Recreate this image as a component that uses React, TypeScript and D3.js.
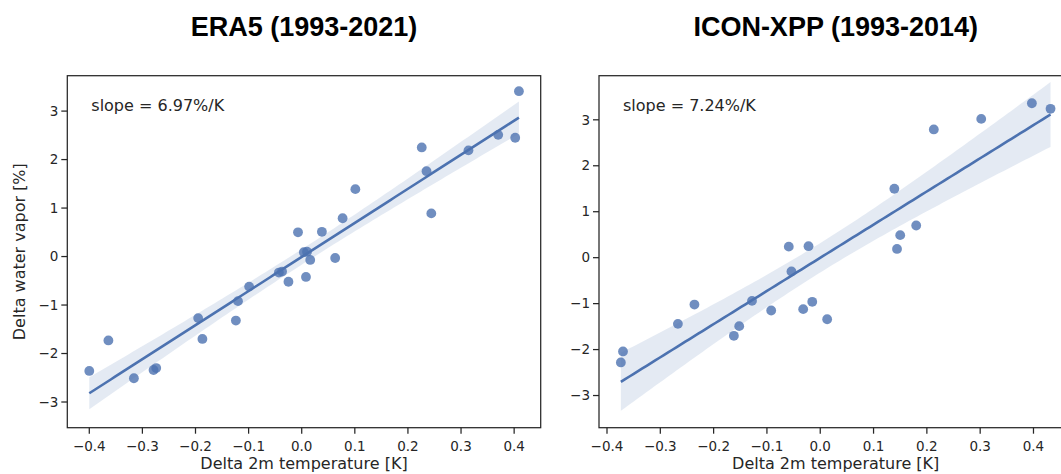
import React from "react";
import * as d3 from "d3";

// ERA5 (1993-2021)
const eraTemp = [
  0.409, 0.370, 0.402, 0.314, 0.226, 0.235, 0.244, 0.101, 0.077, 0.038,
  -0.007, 0.004, 0.010, 0.016, 0.063, -0.043, -0.037, -0.025, 0.008, -0.099,
  -0.120, -0.124, -0.195, -0.187, -0.364, -0.400, -0.316, -0.279, -0.274,
];
const eraVapor = [
  3.41, 2.51, 2.45, 2.19, 2.25, 1.76, 0.89, 1.39, 0.79, 0.51,
  0.50, 0.09, 0.10, -0.07, -0.03, -0.33, -0.31, -0.52, -0.42, -0.62,
  -0.92, -1.32, -1.27, -1.70, -1.73, -2.36, -2.51, -2.34, -2.30,
];

// ICON-XPP (1993-2014)
const iconTemp = [
  0.397, 0.432, 0.302, 0.213, 0.139, 0.180, 0.150, 0.144, -0.059, -0.022,
  -0.054, -0.128, -0.092, -0.015, -0.032, 0.013, -0.236, -0.267, -0.152, -0.162,
  -0.370, -0.374,
];
const iconVapor = [
  3.36, 3.24, 3.02, 2.79, 1.50, 0.70, 0.49, 0.19, 0.24, 0.25,
  -0.30, -0.94, -1.15, -0.96, -1.12, -1.34, -1.02, -1.44, -1.49, -1.70,
  -2.04, -2.28,
];

const xTicks = [-0.4, -0.3, -0.2, -0.1, 0.0, 0.1, 0.2, 0.3, 0.4];
const yTicks = [-3, -2, -1, 0, 1, 2, 3];

const titles = ["ERA5 (1993-2021)", "ICON-XPP (1993-2014)"];
const slopeLabels = ["slope = 6.97%/K", "slope = 7.24%/K"];
const xLabel = "Delta 2m temperature [K]";
const yLabel = "Delta water vapor [%]";

const BLUE = "#4c72b0";
const INK = "#262626";
const TICK_FONT = "DejaVu Sans, sans-serif";

function regression(xs: number[], ys: number[]) {
  const n = xs.length;
  const mx = d3.mean(xs)!;
  const my = d3.mean(ys)!;
  let sxx = 0, sxy = 0;
  for (let i = 0; i < n; i++) {
    sxx += (xs[i] - mx) ** 2;
    sxy += (xs[i] - mx) * (ys[i] - my);
  }
  const b = sxy / sxx;
  const a = my - b * mx;
  let sse = 0;
  for (let i = 0; i < n; i++) sse += (ys[i] - (a + b * xs[i])) ** 2;
  const s = Math.sqrt(sse / (n - 2));
  const t = 1.96 + 2.5 / (n - 2);
  const [xmin, xmax] = d3.extent(xs) as [number, number];
  const grid = d3.range(0, 101).map((i) => xmin + ((xmax - xmin) * i) / 100);
  return grid.map((x) => {
    const yh = a + b * x;
    const se = s * Math.sqrt(1 / n + (x - mx) ** 2 / sxx);
    return { x, y: yh, lo: yh - t * se, hi: yh + t * se };
  });
}

type PanelProps = {
  xs: number[];
  ys: number[];
  left: number;
  xDomain: [number, number];
  yDomain: [number, number];
  title: string;
  slope: string;
  showYLabel: boolean;
};

const TOP = 75.7;
const BOTTOM = 427.7;
const WIDTH = 473.4;

function Panel({ xs, ys, left, xDomain, yDomain, title, slope, showYLabel }: PanelProps) {
  const x = d3.scaleLinear().domain(xDomain).range([left, left + WIDTH]);
  const y = d3.scaleLinear().domain(yDomain).range([BOTTOM, TOP]);
  const fx = d3.format(".1f");
  const fy = d3.format("d");
  const reg = regression(xs, ys);
  const area = d3
    .area<{ x: number; lo: number; hi: number }>()
    .x((d) => x(d.x))
    .y0((d) => y(d.lo))
    .y1((d) => y(d.hi));
  const line = d3
    .line<{ x: number; y: number }>()
    .x((d) => x(d.x))
    .y((d) => y(d.y));
  const cx = left + WIDTH / 2;
  const cy = (TOP + BOTTOM) / 2;
  return (
    <g>
      <text
        x={cx}
        y={36}
        textAnchor="middle"
        fontFamily="Liberation Sans, Arial, sans-serif"
        fontWeight="bold"
        fontSize={27}
        fill="#000"
      >
        {title}
      </text>
      <path d={area(reg) || ""} fill={BLUE} fillOpacity={0.15} />
      <path d={line(reg) || ""} fill="none" stroke={BLUE} strokeWidth={2.6} />
      {xs.map((v, i) => (
        <circle key={i} cx={x(v)} cy={y(ys[i])} r={4.9} fill={BLUE} fillOpacity={0.8} />
      ))}
      <rect
        x={left}
        y={TOP}
        width={WIDTH}
        height={BOTTOM - TOP}
        fill="none"
        stroke={INK}
        strokeWidth={1.25}
      />
      {xTicks.map((t) => (
        <g key={t}>
          <line x1={x(t)} x2={x(t)} y1={BOTTOM} y2={BOTTOM + 6} stroke={INK} strokeWidth={1.25} />
          <text
            x={x(t)}
            y={BOTTOM + 23}
            textAnchor="middle"
            fontFamily={TICK_FONT}
            fontSize={13.5}
            fill={INK}
          >
            {fx(t)}
          </text>
        </g>
      ))}
      {yTicks.map((t) => (
        <g key={t}>
          <line x1={left - 6} x2={left} y1={y(t)} y2={y(t)} stroke={INK} strokeWidth={1.25} />
          <text
            x={left - 9}
            y={y(t)}
            dy="0.35em"
            textAnchor="end"
            fontFamily={TICK_FONT}
            fontSize={13.5}
            fill={INK}
          >
            {fy(t)}
          </text>
        </g>
      ))}
      <text
        x={cx}
        y={469}
        textAnchor="middle"
        fontFamily={TICK_FONT}
        fontSize={16}
        fill={INK}
      >
        {xLabel}
      </text>
      {showYLabel && (
        <text
          transform={`translate(25,${cy}) rotate(-90)`}
          textAnchor="middle"
          fontFamily={TICK_FONT}
          fontSize={16}
          fill={INK}
        >
          {yLabel}
        </text>
      )}
      <text
        x={left + 24}
        y={TOP + 35}
        fontFamily={TICK_FONT}
        fontSize={16}
        fill={INK}
      >
        {slope}
      </text>
    </g>
  );
}

export default function App() {
  return (
    <svg
      width={1061}
      height={474}
      style={{ position: "absolute", left: 0, top: 0, background: "#fff" }}
    >
      <rect x={0} y={0} width={1061} height={474} fill="#fff" />
      <Panel
        xs={eraTemp}
        ys={eraVapor}
        left={67.3}
        xDomain={[-0.4414, 0.45]}
        yDomain={[-3.53, 3.73]}
        title={titles[0]}
        slope={slopeLabels[0]}
        showYLabel={true}
      />
      <Panel
        xs={iconTemp}
        ys={iconVapor}
        left={599}
        xDomain={[-0.415, 0.473]}
        yDomain={[-3.7, 3.96]}
        title={titles[1]}
        slope={slopeLabels[1]}
        showYLabel={false}
      />
    </svg>
  );
}
